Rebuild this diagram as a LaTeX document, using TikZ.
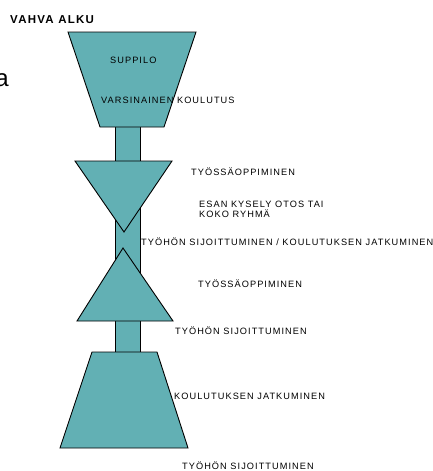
\documentclass[tikz,border=0pt]{standalone}
\usepackage{fontspec}
\setmainfont{Liberation Sans}
\definecolor{funnel}{RGB}{98,176,180}
\begin{document}
\begin{tikzpicture}[x=1pt,y=-1pt,
  shapebox/.style={draw=black,fill=funnel,line width=0.9pt,line join=miter},
  lbl/.style={anchor=west,inner sep=0pt,font=\fontsize{9.2}{10.6}\selectfont\addfontfeature{LetterSpace=11.5}},
  ttl/.style={anchor=west,inner sep=0pt,font=\fontsize{11.5}{13}\selectfont\bfseries\addfontfeature{LetterSpace=11}}]
\useasboundingbox (0,0) rectangle (433,471);
% stem
\draw[shapebox] (115,125) rectangle (140,354);
% top funnel
\draw[shapebox] (68,32) -- (196,32) -- (164,127) -- (100,127) -- cycle;
% inverted triangle
\draw[shapebox] (75,161) -- (172,161) -- (124,232) -- cycle;
% upward triangle
\draw[shapebox] (123,248) -- (173,321) -- (77,321) -- cycle;
% bottom trapezoid
\draw[shapebox] (92,352) -- (157,352) -- (188,448) -- (60,448) -- cycle;
% texts
\node[ttl] (t0) at (10,20) {VAHVA ALKU};
\node[anchor=east,inner sep=0pt,font=\fontsize{24}{28}\selectfont] (ta) at (9,80) {a};
\node[lbl] (t1) at (110,60) {SUPPILO};
\node[lbl] (t2) at (101,100) {VARSINAINEN KOULUTUS};
\node[lbl] (t3) at (191,172) {TYÖSSÄOPPIMINEN};
\node[lbl,align=left] (t4) at (199,209.5) {ESAN KYSELY OTOS TAI\\KOKO RYHMÄ};
\node[lbl] (t5) at (141,242) {TYÖHÖN SIJOITTUMINEN / KOULUTUKSEN JATKUMINEN};
\node[lbl] (t6) at (198,284) {TYÖSSÄOPPIMINEN};
\node[lbl] (t7) at (175,331) {TYÖHÖN SIJOITTUMINEN};
\node[lbl] (t8) at (174,396) {KOULUTUKSEN JATKUMINEN};
\node[lbl] (t9) at (182,466) {TYÖHÖN SIJOITTUMINEN};
\end{tikzpicture}
\end{document}
